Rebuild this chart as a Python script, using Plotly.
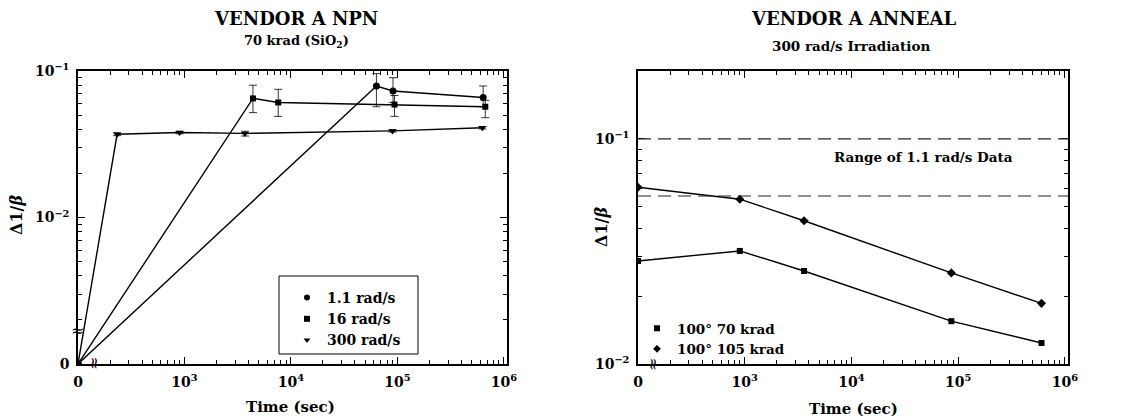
import plotly.graph_objects as go

# ---------------- data (left panel: VENDOR A NPN, 70 krad) ----------------
t_11 = [0, 63600, 91000, 640000]
d_11 = [0, 0.079, 0.073, 0.066]
hi_11 = [0, 0.096, 0.090, 0.079]
lo_11 = [0, 0.057, 0.061, 0.057]

t_16 = [0, 4400, 7600, 94000, 670000]
d_16 = [0, 0.065, 0.061, 0.059, 0.057]
hi_16 = [0, 0.080, 0.075, 0.068, 0.063]
lo_16 = [0, 0.052, 0.049, 0.049, 0.048]

t_300 = [0, 233, 900, 3700, 90000, 630000]
d_300 = [0, 0.037, 0.038, 0.0375, 0.039, 0.041]
hi_300 = [0, 0.0378, 0.0387, 0.0388, 0.0397, 0.0418]
lo_300 = [0, 0.0362, 0.0373, 0.0360, 0.0383, 0.0402]

# ---------------- data (right panel: VENDOR A ANNEAL) ----------------
t_ann = [0, 900, 3600, 86400, 604800]
d_70k = [0.0287, 0.0318, 0.0259, 0.0155, 0.0124]
d_105k = [0.061, 0.054, 0.0433, 0.0254, 0.0186]
range_11_lo = 0.0558
range_11_hi = 0.1

x_ticktext = ["0", "10<sup>3</sup>", "10<sup>4</sup>", "10<sup>5</sup>", "10<sup>6</sup>"]
y1_ticktext = ["0", "10<sup>−2</sup>", "10<sup>−1</sup>"]
y2_ticktext = ["10<sup>−2</sup>", "10<sup>−1</sup>"]

# broken-axis positions used for the "0" values
X_ZERO = 100.0
Y_ZERO = 1e-3

FONT = "DejaVu Serif"
W, H = 1125, 419


def zx(v):
    return [X_ZERO if a == 0 else a for a in v]


def zy(v):
    return [Y_ZERO if a == 0 else a for a in v]


def err(d, hi, lo):
    up = [h - a if a else 0 for a, h in zip(d, hi)]
    dn = [a - l if a else 0 for a, l in zip(d, lo)]
    return up, dn


fig = go.Figure()

left_series = [
    (t_11, d_11, hi_11, lo_11, "circle", 7, "1.1 rad/s"),
    (t_16, d_16, hi_16, lo_16, "square", 6, "16 rad/s"),
    (t_300, d_300, hi_300, lo_300, "triangle-down", 7, "300 rad/s"),
]
for t, d, hi, lo, sym, sz, name in left_series:
    up, dn = err(d, hi, lo)
    fig.add_trace(go.Scatter(
        x=zx(t), y=zy(d), mode="lines+markers", xaxis="x", yaxis="y",
        line=dict(color="black", width=1.4),
        marker=dict(symbol=sym, size=sz, color="black"),
        error_y=dict(type="data", array=up, arrayminus=dn, color="black",
                     thickness=0.8, width=4, symmetric=False),
        showlegend=False, hoverinfo="skip"))
    # marker-only legend proxy
    fig.add_trace(go.Scatter(
        x=[None], y=[None], mode="markers", xaxis="x", yaxis="y",
        marker=dict(symbol=sym, size=6, color="black"),
        name=name, legend="legend"))

right_series = [
    (d_70k, "square", 6, "100° 70 krad"),
    (d_105k, "diamond", 7, "100° 105 krad"),
]
for d, sym, sz, name in right_series:
    fig.add_trace(go.Scatter(
        x=zx(t_ann), y=d, mode="lines+markers", xaxis="x2", yaxis="y2",
        line=dict(color="black", width=1.4),
        marker=dict(symbol=sym, size=sz, color="black"),
        showlegend=False, hoverinfo="skip"))
    fig.add_trace(go.Scatter(
        x=[None], y=[None], mode="markers", xaxis="x2", yaxis="y2",
        marker=dict(symbol=sym, size=6, color="black"),
        name=name, legend="legend2"))

# dashed range lines
for yv in (range_11_hi, range_11_lo):
    fig.add_shape(type="line", xref="x2 domain", yref="y2", x0=0, x1=1,
                  y0=yv, y1=yv, line=dict(color="#222", width=1.2, dash="13px,7px"))

# legend frame (left panel)
fig.add_shape(type="rect", xref="paper", yref="paper",
              x0=279 / W, x1=418 / W, y0=1 - 354 / H, y1=1 - 276 / H,
              line=dict(color="black", width=1), fillcolor="white", layer="above")


def minor_vals(lo_dec, hi_dec, upper=None):
    out = []
    for dec in range(lo_dec, hi_dec):
        for k in range(2, 10):
            v = k * 10.0 ** dec
            if upper is None or v <= upper:
                out.append(v)
    return out


tickfont = dict(family=FONT, size=14, color="black", weight="bold")


def axis(dom, rng, tv, tt, minor, anchor):
    return dict(type="log", domain=dom, range=rng, tickvals=tv, ticktext=tt,
                ticks="inside", ticklen=7, tickwidth=1, tickcolor="black",
                showline=True, linecolor="black", linewidth=1.5,
                mirror="allticks", showgrid=False, zeroline=False,
                tickfont=tickfont, anchor=anchor, automargin=False,
                ticklabelstandoff=4,
                minor=dict(tickvals=minor, ticks="inside", ticklen=4,
                           tickcolor="black", tickwidth=1, showgrid=False))


xdom1 = [78 / W, 507 / W]
xdom2 = [638 / W, 1068 / W]
ydom = [1 - 364 / H, 1 - 71 / H]

xtv = [X_ZERO, 1e3, 1e4, 1e5, 1e6]
fig.update_layout(
    width=W, height=H, margin=dict(l=0, r=0, t=0, b=0),
    paper_bgcolor="white", plot_bgcolor="white",
    xaxis=axis(xdom1, [2, 6.03], xtv, x_ticktext, minor_vals(2, 6), "y"),
    yaxis=axis(ydom, [-3, -1], [Y_ZERO, 1e-2, 1e-1], y1_ticktext, minor_vals(-3, -1), "x"),
    xaxis2=axis(xdom2, [2, 6.03], xtv, x_ticktext, minor_vals(2, 6), "y2"),
    yaxis2=axis(ydom, [-2, -0.698], [1e-2, 1e-1], y2_ticktext, minor_vals(-2, 0, 0.2), "x2"),
    legend=dict(x=287 / W, y=1 - 282 / H, xanchor="left", yanchor="top",
                bgcolor="rgba(0,0,0,0)",
                font=dict(family=FONT, size=14, color="black", weight="bold"),
                itemwidth=30, tracegroupgap=0),
    legend2=dict(x=637 / W, y=1 - 313 / H, xanchor="left", yanchor="top",
                 bgcolor="rgba(0,0,0,0)",
                 font=dict(family=FONT, size=13.5, color="black", weight="bold"),
                 itemwidth=30),
)

ann = [
    (296, 19, "<b>VENDOR A NPN</b>", 18, 0),
    (296, 41, "<b>70 krad (SiO<sub>2</sub>)</b>", 13, 0),
    (853, 19, "<b>VENDOR A ANNEAL</b>", 18, 0),
    (851, 46, "<b>300 rad/s Irradiation</b>", 13.5, 0),
    (290, 407, "<b>Time (sec)</b>", 15, 0),
    (853, 409, "<b>Time (sec)</b>", 15, 0),
    (16, 215, "<b>Δ1/<i>β</i></b>", 16, -90),
    (601, 227, "<b>Δ1/<i>β</i></b>", 16, -90),
    (923, 157, "<b>Range of 1.1 rad/s Data</b>", 13.5, 0),
    (77, 330, "≈", 16, 0),
    (93, 364, "≈", 16, -90),
    (652, 365, "≈", 16, -90),
]
for x, y, text, size, ang in ann:
    fig.add_annotation(x=x / W, y=1 - y / H, xref="paper", yref="paper",
                       text=text, showarrow=False, textangle=ang,
                       xanchor="center", yanchor="middle",
                       font=dict(family=FONT, size=size, color="black"))

fig.write_html("out.html")
